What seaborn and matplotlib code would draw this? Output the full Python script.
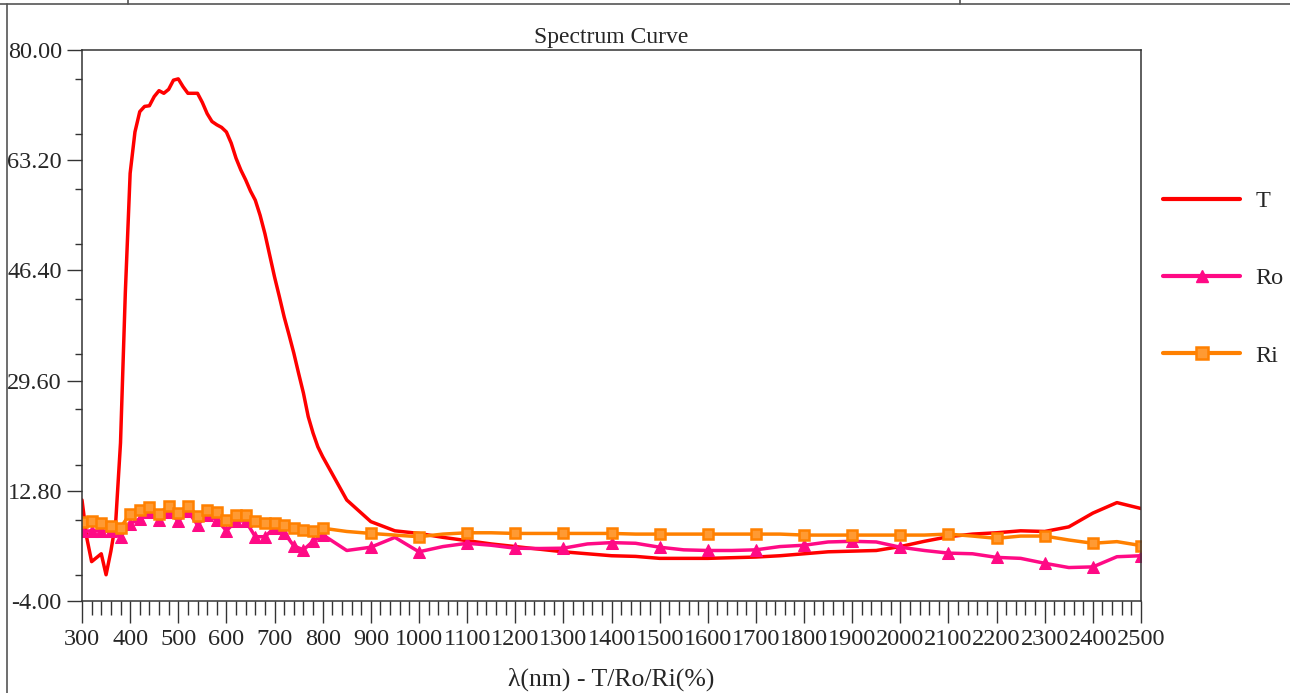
import numpy as np
import pandas as pd
import matplotlib
matplotlib.use("Agg")
import matplotlib.pyplot as plt
from matplotlib.lines import Line2D
from matplotlib.ticker import MultipleLocator, FormatStrFormatter
import seaborn as sns

# ---------------- data ----------------
wl_T = list(range(300, 801, 10)) + list(range(850, 2501, 50))
T = [11.4, 5.6, 2.0, 2.6, 3.2, 0.0, 3.6, 8.0, 20.1, 43.0,
     61.2, 67.5, 70.6, 71.4, 71.5, 72.9, 73.8, 73.4, 74.0, 75.4,
     75.6, 74.4, 73.4, 73.4, 73.4, 72.0, 70.3, 69.1, 68.6, 68.2,
     67.5, 65.8, 63.5, 61.7, 60.2, 58.5, 57.1, 54.8, 52.0, 48.7,
     45.4, 42.4, 39.3, 36.6, 33.8, 30.7, 27.7, 24.1, 21.6, 19.5,
     18.0,
     11.4, 8.1, 6.7, 6.3, 5.7, 5.2, 4.7, 4.3, 3.9, 3.5,
     3.2, 2.9, 2.8, 2.5, 2.5, 2.5, 2.6, 2.7, 2.9, 3.2,
     3.5, 3.6, 3.7, 4.3, 5.1, 5.8, 6.2, 6.4, 6.7, 6.6,
     7.3, 9.4, 11.0, 10.1]

wl_R = list(range(300, 801, 20)) + list(range(850, 2501, 50))
Ro = [6.6, 6.7, 6.7, 6.6, 5.8, 7.8, 8.5, 9.5, 8.3, 9.6,
      8.2, 9.7, 7.6, 9.1, 8.4, 6.7, 8.2, 8.2, 5.8, 5.8,
      7.2, 6.4, 4.4, 3.8, 5.1, 6.1,
      3.7, 4.2, 5.7, 3.5, 4.3, 4.8, 4.5, 4.05, 4.0, 4.05,
      4.7, 4.9, 4.8, 4.2, 3.8, 3.7, 3.7, 3.8, 4.3, 4.5,
      5.0, 5.1, 5.0, 4.2, 3.7, 3.3, 3.2, 2.65, 2.5, 1.75,
      1.1, 1.2, 2.75, 2.9]
Ri = [8.1, 8.2, 7.9, 7.5, 7.2, 9.3, 9.8, 10.4, 9.3, 10.5,
      9.4, 10.5, 9.0, 9.9, 9.6, 8.3, 9.1, 9.1, 8.2, 7.9,
      7.9, 7.6, 7.2, 6.8, 6.7, 7.1,
      6.6, 6.3, 6.05, 5.8, 6.2, 6.4, 6.4, 6.3, 6.3, 6.3,
      6.3, 6.3, 6.2, 6.2, 6.2, 6.2, 6.2, 6.2, 6.2, 6.05,
      6.05, 6.05, 6.05, 6.05, 6.05, 6.2, 5.9, 5.55, 5.9, 5.9,
      5.3, 4.8, 5.05, 4.45]

y_ticks = [-4.0, 12.8, 29.6, 46.4, 63.2, 80.0]
x_ticks = list(range(300, 2501, 100))
series_names = ["T", "Ro", "Ri"]
title = "Spectrum Curve"
xlabel = "λ(nm) - T/Ro/Ri(%)"

# ---------------- style ----------------
sns.set_style("ticks")
plt.rcParams["font.family"] = ["Liberation Serif", "DejaVu Serif"]
plt.rcParams["font.size"] = 17

c_T, c_Ro, c_Ri = "#FF0000", "#FF0A85", "#FF8000"

W, H = 1290, 693
fig = plt.figure(figsize=(W / 100, H / 100), dpi=100)
ax = fig.add_axes([82 / W, 1 - 601 / H, (1141 - 82) / W, (601 - 50) / H])

dfT = pd.DataFrame({"wl": wl_T, "v": T})
dfR = pd.DataFrame({"wl": wl_R, "Ro": Ro, "Ri": Ri})

mk = list(range(0, 26)) + list(range(27, len(wl_R), 2))

sns.lineplot(data=dfT, x="wl", y="v", ax=ax, color=c_T, lw=2.5,
             estimator=None, sort=False, legend=False)
sns.lineplot(data=dfR, x="wl", y="Ro", ax=ax, color=c_Ro, lw=2.5,
             marker="^", markersize=8, markevery=mk, markeredgecolor=c_Ro,
             markerfacecolor=c_Ro, estimator=None, sort=False, legend=False)
sns.lineplot(data=dfR, x="wl", y="Ri", ax=ax, color=c_Ri, lw=2.5,
             marker="s", markersize=7.5, markevery=mk, markeredgecolor=c_Ri,
             markerfacecolor="#FF9A33", markeredgewidth=1.8,
             estimator=None, sort=False, legend=False)

ax.set_xlim(300, 2500)
ax.set_ylim(-4, 80)
ax.set_xticks(x_ticks)
ax.set_xticklabels([str(v) for v in x_ticks])
ax.xaxis.set_minor_locator(MultipleLocator(20))
ax.set_yticks(y_ticks)
ax.yaxis.set_major_formatter(FormatStrFormatter("%.2f"))
ax.yaxis.set_minor_locator(MultipleLocator(8.4))
ax.tick_params(axis="x", which="major", direction="out", length=16, width=1,
               pad=4, labelsize=17.5, color="#333333")
ax.tick_params(axis="x", which="minor", direction="out", length=10, width=1,
               color="#333333")
ax.tick_params(axis="y", which="major", direction="out", length=10.5, width=1,
               pad=4, labelsize=17.5, color="#333333")
ax.tick_params(axis="y", which="minor", direction="out", length=5, width=1,
               color="#333333")
for s in ax.spines.values():
    s.set_visible(True)
    s.set_color("#333333")
    s.set_linewidth(1.1)

ax.set_xlabel(xlabel, fontsize=18.5, labelpad=13)
ax.set_ylabel("")
ax.set_title(title, fontsize=17, pad=5)

handles = [
    Line2D([], [], color=c_T, lw=3),
    Line2D([], [], color=c_Ro, lw=3, marker="^", markersize=8.5,
           markerfacecolor=c_Ro, markeredgecolor=c_Ro),
    Line2D([], [], color=c_Ri, lw=3, marker="s", markersize=8,
           markerfacecolor="#FF9A33", markeredgecolor=c_Ri, markeredgewidth=1.8),
]
fig.legend(handles, series_names, loc="upper left",
           bbox_to_anchor=(1163 / W, 1 - 190 / H), frameon=False,
           fontsize=17.5, handlelength=3.17, handletextpad=0.62,
           labelspacing=2.28, borderpad=0, borderaxespad=0)

# window frame lines of the original screenshot
def px_line(x0, y0, x1, y1):
    fig.add_artist(Line2D([x0 / W, x1 / W], [1 - y0 / H, 1 - y1 / H],
                          color="#555555", lw=1.2, transform=fig.transFigure))

px_line(0, 4, W, 4)
px_line(7, 4, 7, H)
px_line(128, 0, 128, 4)
px_line(960, 0, 960, 4)

fig.savefig("out.png", dpi=100)
